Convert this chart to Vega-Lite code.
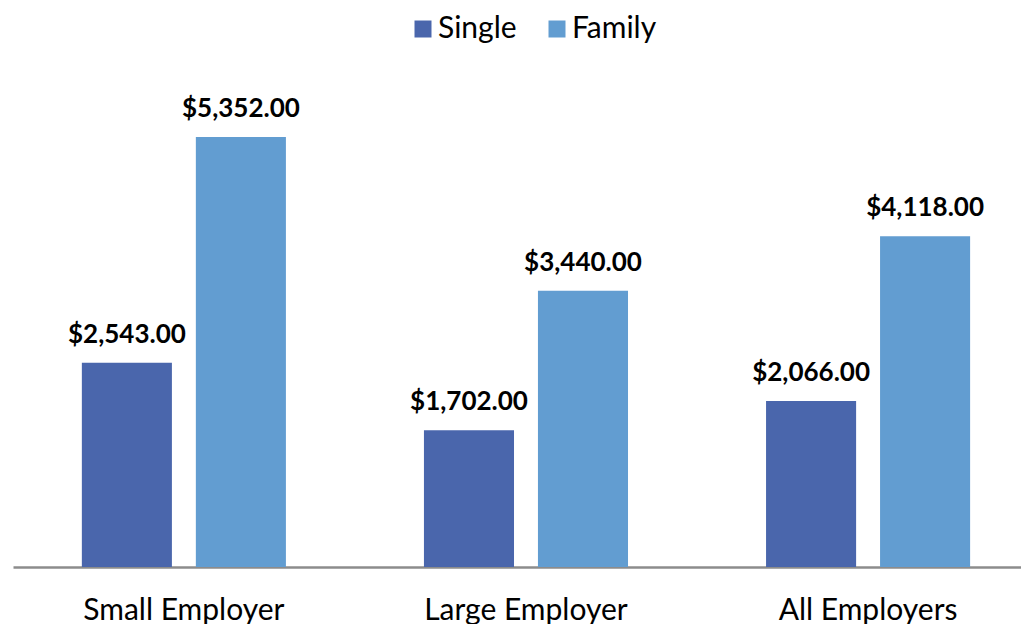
{
  "$schema": "https://vega.github.io/schema/vega-lite/v6.json",
  "width": 1008,
  "height": 482,
  "autosize": {"type": "none"},
  "padding": {"left": 13, "top": 85, "right": 0, "bottom": 57},
  "background": "white",
  "config": {
    "view": {"stroke": null},
    "font": "Lato"
  },
  "data": {
    "values": [
      {"employer": "Small Employer", "type": "Single", "value": 2543},
      {"employer": "Small Employer", "type": "Family", "value": 5352},
      {"employer": "Large Employer", "type": "Single", "value": 1702},
      {"employer": "Large Employer", "type": "Family", "value": 3440},
      {"employer": "All Employers", "type": "Single", "value": 2066},
      {"employer": "All Employers", "type": "Family", "value": 4118}
    ]
  },
  "encoding": {
    "x": {
      "field": "employer", "type": "nominal", "sort": null, "title": null,
      "scale": {"paddingInner": 0.4035, "paddingOuter": 0.175, "align": 0.575},
      "axis": {"labelAngle": 0, "ticks": false, "labelPadding": 28, "labelFontSize": 30, "labelLimit": 0, "labelColor": "#000000", "domainColor": "#8c8c8c", "domainWidth": 2.5, "grid": false, "labelFont": "Lato"}
    },
    "xOffset": {
      "field": "type", "type": "nominal", "sort": ["Single", "Family"],
      "scale": {"paddingInner": 0.21, "paddingOuter": 0}
    },
    "y": {
      "field": "value", "type": "quantitative",
      "scale": {"domain": [0, 6000]},
      "axis": null
    }
  },
  "layer": [
    {
      "mark": {"type": "bar"},
      "encoding": {
        "color": {
          "field": "type", "type": "nominal", "sort": ["Single", "Family"],
          "scale": {"domain": ["Single", "Family"], "range": ["#4A66AC", "#629DD1"]},
          "legend": {
            "title": null, "orient": "none", "direction": "horizontal",
            "legendX": 395, "legendY": -71,
            "symbolType": "square", "symbolSize": 289, "symbolStrokeWidth": 0,
            "labelFontSize": 30, "labelColor": "#000000", "labelFont": "Lato",
            "labelOffset": 0, "columnPadding": 25
          }
        }
      }
    },
    {
      "mark": {"type": "text", "baseline": "alphabetic", "dy": -20, "fontSize": 26, "fontWeight": "bold", "color": "#000000", "font": "Lato"},
      "encoding": {
        "text": {"field": "value", "type": "quantitative", "format": "$,.2f"}
      }
    }
  ]
}
